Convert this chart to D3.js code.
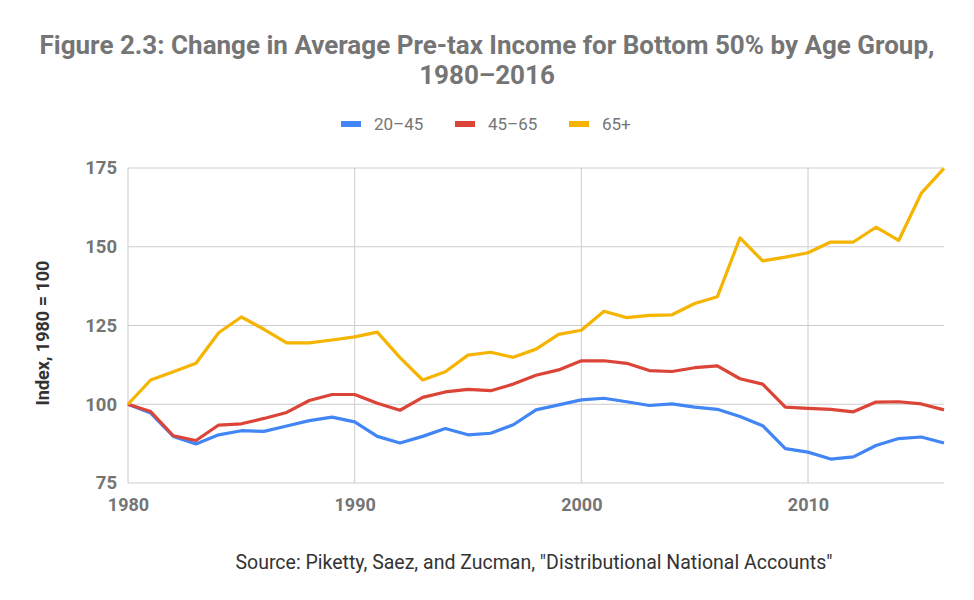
<!DOCTYPE html>
<html>
<head>
<meta charset="utf-8">
<script src="https://cdn.jsdelivr.net/npm/d3@7"></script>
<style>
  body { margin: 0; background: #fff; }
  text { font-family: Roboto, "Noto Sans", sans-serif; }
</style>
</head>
<body>
<div id="chart"></div>
<script>
// years 1980..2016
const years = d3.range(1980, 2017);

// index values, 1980 = 100
const age20to45 = [100, 97.2, 89.8, 87.4, 90.3, 91.6, 91.4, 93.1, 94.8, 95.9,
  94.4, 89.8, 87.7, 89.8, 92.3, 90.3, 90.8, 93.5, 98.2, 99.8,
  101.4, 101.9, 100.8, 99.6, 100.1, 99.1, 98.4, 96.1, 93.2, 85.9,
  84.8, 82.6, 83.3, 86.9, 89.1, 89.6, 87.7];

const age45to65 = [100, 97.7, 90.0, 88.5, 93.4, 93.8, 95.5, 97.4, 101.2, 103.1,
  103.1, 100.3, 98.1, 102.2, 103.9, 104.7, 104.3, 106.4, 109.2, 110.9,
  113.8, 113.8, 113.0, 110.7, 110.4, 111.6, 112.2, 108.1, 106.4, 99.1,
  98.7, 98.4, 97.6, 100.7, 100.8, 100.1, 98.2];

const age65plus = [100, 107.7, 110.3, 113.0, 122.7, 127.7, 123.8, 119.5, 119.5, 120.4,
  121.4, 122.9, 114.8, 107.7, 110.3, 115.6, 116.5, 114.9, 117.5, 122.2,
  123.5, 129.5, 127.5, 128.2, 128.4, 132.0, 134.1, 152.8, 145.5, 146.7,
  148.1, 151.5, 151.5, 156.2, 152.0, 167.0, 174.9];

const seriesNames = ["20\u201345", "45\u201365", "65+"];
const seriesColors = ["#4285f4", "#db4437", "#f4b400"];
const yTicks = [75, 100, 125, 150, 175];
const xTicks = [1980, 1990, 2000, 2010];

const width = 974, height = 600;
const margin = { top: 168, right: 30, bottom: 117, left: 128 };

const svg = d3.select("#chart").append("svg")
  .attr("width", width)
  .attr("height", height);

const x = d3.scaleLinear().domain([1980, 2016]).range([margin.left, width - margin.right]);
const y = d3.scaleLinear().domain([75, 175]).range([height - margin.bottom, margin.top]);

// title
const title = svg.append("text")
  .attr("text-anchor", "middle")
  .attr("fill", "#757575")
  .attr("font-size", 26)
  .attr("font-weight", "bold");
title.append("tspan").attr("x", 487).attr("y", 54)
  .text("Figure 2.3: Change in Average Pre-tax Income for Bottom 50% by Age Group,");
title.append("tspan").attr("x", 487).attr("y", 84)
  .text("1980\u20132016");

// legend
const legendX = [341, 455, 569];
const legend = svg.append("g");
seriesNames.forEach(function(name, i) {
  legend.append("rect")
    .attr("x", legendX[i]).attr("y", 121)
    .attr("width", 20).attr("height", 6)
    .attr("fill", seriesColors[i]);
  legend.append("text")
    .attr("x", legendX[i] + 33).attr("y", 130)
    .attr("font-size", 17)
    .attr("fill", "#757575")
    .text(name);
});

// grid
svg.append("g").selectAll("line.h")
  .data(yTicks)
  .enter().append("line")
  .attr("x1", x(1980)).attr("x2", x(2016))
  .attr("y1", d => y(d)).attr("y2", d => y(d))
  .attr("stroke", "#cccccc").attr("stroke-width", 1);

svg.append("g").selectAll("line.v")
  .data(xTicks)
  .enter().append("line")
  .attr("x1", d => x(d)).attr("x2", d => x(d))
  .attr("y1", y(175)).attr("y2", y(75))
  .attr("stroke", "#cccccc").attr("stroke-width", 1);

// axes, labels only
const yAxis = svg.append("g")
  .attr("transform", "translate(" + (margin.left - 11) + ",0)")
  .call(d3.axisLeft(y).tickValues(yTicks).tickSize(0).tickPadding(0));
yAxis.select(".domain").remove();
yAxis.selectAll("text")
  .attr("font-size", 18.5).attr("font-weight", "bold")
  .attr("fill", "#757575").attr("font-family", "Roboto");

const xAxis = svg.append("g")
  .attr("transform", "translate(0," + (height - margin.bottom) + ")")
  .call(d3.axisBottom(x).tickValues(xTicks).tickFormat(d3.format("d")).tickSize(0).tickPadding(15));
xAxis.select(".domain").remove();
xAxis.selectAll("text")
  .attr("font-size", 18).attr("font-weight", "bold")
  .attr("fill", "#757575").attr("font-family", "Roboto");

// y axis title
svg.append("text")
  .attr("transform", "translate(49,333) rotate(-90)")
  .attr("text-anchor", "middle")
  .attr("font-size", 18).attr("font-weight", "bold")
  .attr("fill", "#333333")
  .text("Index, 1980 = 100");

// lines
const allSeries = [age20to45, age45to65, age65plus];
const line = d3.line()
  .x((d, i) => x(years[i]))
  .y(d => y(d));

svg.append("g").selectAll("path")
  .data(allSeries)
  .enter().append("path")
  .attr("d", line)
  .attr("fill", "none")
  .attr("stroke", (d, i) => seriesColors[i])
  .attr("stroke-width", 3.2)
  .attr("stroke-linejoin", "round");

// source
svg.append("text")
  .attr("x", 534).attr("y", 569)
  .attr("text-anchor", "middle")
  .attr("font-size", 19.5)
  .attr("fill", "#333333")
  .text("Source: Piketty, Saez, and Zucman, \"Distributional National Accounts\"");
</script>
</body>
</html>
